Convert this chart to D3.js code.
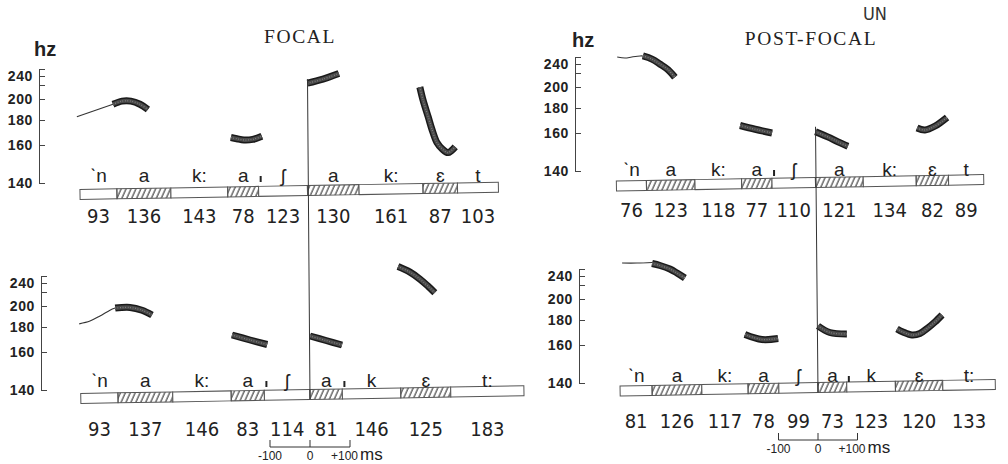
<!DOCTYPE html>
<html>
<head>
<meta charset="utf-8">
<script src="https://cdn.jsdelivr.net/npm/d3@7"></script>
<style>
  body { margin: 0; background: #fff; }
  svg { display: block; }
  .num { font-family: "Liberation Sans Narrow", "DejaVu Sans Condensed", "Liberation Sans", sans-serif; font-size: 20px; fill: #222; }
  .ph { font-family: "Liberation Sans", "DejaVu Sans", sans-serif; font-size: 19px; fill: #222; }
  .title { font-family: "Liberation Serif", "DejaVu Serif", serif; font-size: 19.5px; letter-spacing: 1.6px; fill: #222; }
  .hz { font-family: "Liberation Sans", sans-serif; font-weight: bold; font-size: 20px; fill: #222; }
  .un { font-family: "Liberation Sans Narrow", "DejaVu Sans Condensed", sans-serif; font-size: 18px; fill: #333; }
  .sb { font-family: "Liberation Sans", "DejaVu Sans", sans-serif; font-size: 12px; fill: #222; }
</style>
</head>
<body>
<div id="container"></div>
<script>
let width = 1008
let height = 464

// Hz axis
const hzTicks = [140, 160, 180, 200, 220, 240, 260]
const hzLabels = ["140", "160", "180", "200", "", "240", ""]

// duration scale bar (ms)
const scaleTicks = [-100, 0, 100]
const scaleLabels = ["-100", "0", "+100"]

const titles = ["FOCAL", "POST-FOCAL"]
const titleUn = "UN"
const unitHz = "hz"
const unitMs = "ms"

const vowel = [false, true, false, true, false, true, false, true, false]
const alignIndex = 5   // segment lined up at t = 0

// top left: focal
const tlLabels = ["ˋn", "a", "k:", "a", "ʃ", "a", "k:", "ɛ", "t"]
const tlDur = [93, 136, 143, 78, 123, 130, 161, 87, 103]
const tlMarks = [4]
const tlLead = [[-581, 183], [-490, 195]]
const tlF0 = [
    [[-490, 195], [-467, 198], [-445, 198], [-422, 195], [-402, 190]],
    [[-193, 166], [-178, 165], [-160, 164], [-138, 164.5], [-115, 167]],
    [[0, 224], [39, 233], [79, 247]],
    [[283, 217], [291, 199], [304, 183], [314, 172], [326, 162], [339, 158], [354, 156], [372, 159]]
]

// bottom left: focal
const blLabels = ["ˋn", "a", "k:", "a", "ʃ", "a", "k", "ɛ", "t:"]
const blDur = [93, 137, 146, 83, 114, 81, 146, 125, 183]
const blMarks = [4, 6]
const blLead = [[-577, 183], [-550, 185.7], [-525, 190.5], [-500, 196], [-487, 198]]
const blF0 = [
    [[-487, 198], [-450, 198.6], [-420, 196], [-395, 191.4]],
    [[-195, 173.6], [-150, 169.6], [-107, 166]],
    [[0, 172.8], [40, 169.2], [80, 165.6]],
    [[220, 287], [250, 271], [275, 251], [295, 233], [312, 219]]
]

// top right: post-focal
const trLabels = ["ˋn", "a", "k:", "a", "ʃ", "a", "k:", "ɛ", "t"]
const trDur = [76, 123, 118, 77, 110, 121, 134, 82, 89]
const trMarks = [4]
const trLead = [[-502, 260], [-482, 257], [-465, 260], [-444, 263], [-437, 263]]
const trF0 = [
    [[-437, 263], [-414, 254], [-394, 240], [-373, 227], [-356, 214]],
    [[-191, 166], [-153, 163], [-110, 160]],
    [[0, 161], [37, 157.4], [57, 155.3], [82, 153]],
    [[257, 164], [277, 162.4], [303, 165.6], [333, 172.4]]
]

// bottom right: post-focal
const brLabels = ["ˋn", "a", "k:", "a", "ʃ", "a", "k", "ɛ", "t:"]
const brDur = [81, 126, 117, 78, 99, 73, 123, 120, 133]
const brMarks = [6]
const brLead = [[-496, 277], [-458, 277], [-420, 278.6]]
const brF0 = [
    [[-420, 275.7], [-400, 270], [-375, 260], [-357, 248.6], [-337, 235.6]],
    [[-185, 168.4], [-142, 164.4], [-101, 165.2]],
    [[0, 175.2], [30, 170], [73, 168.8]],
    [[200, 172.8], [215, 170.4], [238, 168], [258, 169.2], [278, 173.6], [296, 178.4], [314, 184.8]]
]

// layout
const hzSpacing = [0, -38, -63, -84, -98, -107, -114]
const tilt = -1

const panels = [
    { labels: tlLabels, dur: tlDur, marks: tlMarks, lead: tlLead, f0: tlF0,
      x0: 307.5, k: 0.397, y140: 183, axisX: 39, barY: 194.5, phY: 182, numY: 223 },
    { labels: blLabels, dur: blDur, marks: blMarks, lead: blLead, f0: blF0,
      x0: 310, k: 0.4, y140: 390, axisX: 41, barY: 398.5, phY: 387, numY: 436, sbY: 447 },
    { labels: trLabels, dur: trDur, marks: trMarks, lead: trLead, f0: trF0,
      x0: 815.5, k: 0.395, y140: 171, axisX: 575, barY: 186, phY: 176, numY: 217 },
    { labels: brLabels, dur: brDur, marks: brMarks, lead: brLead, f0: brF0,
      x0: 818, k: 0.395, y140: 383, axisX: 579, barY: 391, phY: 382, numY: 428, sbY: 440 }
]

let svg = d3.select("#container")
    .append("svg")
    .attr("width", width)
    .attr("height", height)
    .attr("viewBox", [0, 0, width, height])

svg.append("rect").attr("width", width).attr("height", height).attr("fill", "#fff")

svg.append("defs").append("pattern")
    .attr("id", "hatch")
    .attr("patternUnits", "userSpaceOnUse")
    .attr("width", 4.5).attr("height", 10)
    .attr("patternTransform", "rotate(25)")
    .append("line")
    .attr("x1", 1).attr("x2", 1).attr("y1", 0).attr("y2", 10)
    .attr("stroke", "#333").attr("stroke-width", 1.1)

const slope = Math.tan(tilt * Math.PI / 180)

panels.forEach(p => {
    let x = d3.scaleLinear().domain([0, 100]).range([p.x0, p.x0 + 100 * p.k])
    let y = d3.scaleLinear().domain(hzTicks).range(hzSpacing.map(d => p.y140 + d))
    p.x = x
    p.y = y

    const g = svg.append("g")

    // Y Axis
    let yAxis = g.append("g")
        .attr("transform", `translate(${p.axisX},0)`)
        .call(d3.axisLeft(y)
            .tickValues(hzTicks)
            .tickFormat((d, i) => hzLabels[i])
            .tickSizeInner(-6)
            .tickSizeOuter(-6)
            .tickPadding(6))
        .attr("font-family", "'Liberation Sans', sans-serif")
        .attr("font-size", 14)
        .attr("font-weight", "bold")
    yAxis.selectAll("path, line").attr("stroke", "#444")
    yAxis.selectAll("text").attr("fill", "#222").attr("letter-spacing", 0.6)

    // segments
    const t0 = -d3.sum(p.dur.slice(0, alignIndex))
    const starts = d3.cumsum(p.dur)
    const segs = p.dur.map((d, i) => ({
        label: p.labels[i],
        dur: d,
        start: t0 + starts[i] - d,
        vowel: vowel[i]
    }))
    const xStart = x(segs[0].start)
    p.xStart = xStart

    const bar = g.append("g")
        .attr("transform", `rotate(${tilt},${xStart},${p.barY})`)
    bar.selectAll("rect.seg")
        .data(segs)
        .join("rect")
        .attr("x", d => x(d.start))
        .attr("y", p.barY - 5)
        .attr("width", d => x(d.start + d.dur) - x(d.start))
        .attr("height", 10)
        .attr("fill", d => d.vowel ? "url(#hatch)" : "#fff")
        .attr("stroke", "#555")
        .attr("stroke-width", 1)

    g.selectAll("text.ph")
        .data(segs)
        .join("text")
        .attr("class", "ph")
        .attr("x", d => x(d.start + d.dur / 2))
        .attr("y", p.phY)
        .attr("text-anchor", "middle")
        .text(d => d.label)

    g.selectAll("text.num")
        .data(segs)
        .join("text")
        .attr("class", "num")
        .attr("x", d => x(d.start + d.dur / 2))
        .attr("y", p.numY)
        .attr("text-anchor", "middle")
        .text(d => d.dur)

    // syllable marks
    g.selectAll("line.mark")
        .data(p.marks)
        .join("line")
        .attr("x1", i => x(segs[i].start) + 2)
        .attr("x2", i => x(segs[i].start) + 2)
        .attr("y1", p.phY - 6)
        .attr("y2", p.phY)
        .attr("stroke", "#222")
        .attr("stroke-width", 2)

    // F0
    let line = d3.line()
        .x(d => x(d[0]))
        .y(d => y(d[1]))
        .curve(d3.curveCatmullRom)

    g.append("path")
        .attr("d", line(p.lead))
        .attr("fill", "none")
        .attr("stroke", "#333")
        .attr("stroke-width", 1.1)

    // thick ribbons: dark edge, grey core, speckle
    const ribbons = [
        { stroke: "#1a1a1a", w: 7, dash: null },
        { stroke: "#4a4a4a", w: 4, dash: null },
        { stroke: "#8c8c8c", w: 1.3, dash: "0.7 1.8" }
    ]
    ribbons.forEach(r => {
        g.append("g")
            .selectAll("path")
            .data(p.f0)
            .join("path")
            .attr("d", line)
            .attr("fill", "none")
            .attr("stroke", r.stroke)
            .attr("stroke-width", r.w)
            .attr("stroke-dasharray", r.dash)
    })

    // duration scale bar
    if (p.sbY) {
        const sb = g.append("g")
        sb.append("line")
            .attr("x1", x(scaleTicks[0])).attr("x2", x(scaleTicks[scaleTicks.length - 1]))
            .attr("y1", p.sbY).attr("y2", p.sbY)
            .attr("stroke", "#333")
        sb.selectAll("line.t")
            .data(scaleTicks)
            .join("line")
            .attr("x1", d => x(d)).attr("x2", d => x(d))
            .attr("y1", p.sbY).attr("y2", p.sbY - 7)
            .attr("stroke", "#333")
        sb.selectAll("text")
            .data(scaleTicks)
            .join("text")
            .attr("class", "sb")
            .attr("x", (d, i) => i == 2 ? x(d) - 19 : x(d))
            .attr("y", p.sbY + 13)
            .attr("text-anchor", (d, i) => i == 2 ? "start" : "middle")
            .text((d, i) => scaleLabels[i])
            .filter((d, i) => i == 2)
            .append("tspan")
            .attr("dx", 2)
            .attr("font-size", 17)
            .text(unitMs)
    }
})

// line-up markers through both panels of a column
const [tl, bl, tr, br] = panels
const drop = (p) => p.barY + 5 + (p.x(0) - p.xStart) * slope
svg.append("line")
    .attr("x1", tl.x(0)).attr("y1", tl.y(tlF0[2][0][1]) - 4)
    .attr("x2", bl.x(0)).attr("y2", drop(bl))
    .attr("stroke", "#333").attr("stroke-width", 1)
svg.append("line")
    .attr("x1", tr.x(0)).attr("y1", tr.y(trF0[2][0][1]) - 5)
    .attr("x2", br.x(0)).attr("y2", drop(br))
    .attr("stroke", "#333").attr("stroke-width", 1)

// titles and units
svg.append("text").attr("class", "title").attr("x", 300).attr("y", 43)
    .attr("text-anchor", "middle").text(titles[0])
svg.append("text").attr("class", "title").attr("x", 811).attr("y", 45)
    .attr("text-anchor", "middle").text(titles[1])
svg.append("text").attr("class", "un").attr("x", 875).attr("y", 20)
    .attr("text-anchor", "middle").text(titleUn)
svg.append("text").attr("class", "hz").attr("x", 34).attr("y", 56).text(unitHz)
svg.append("text").attr("class", "hz").attr("x", 572).attr("y", 47).text(unitHz)
</script>
</body>
</html>
